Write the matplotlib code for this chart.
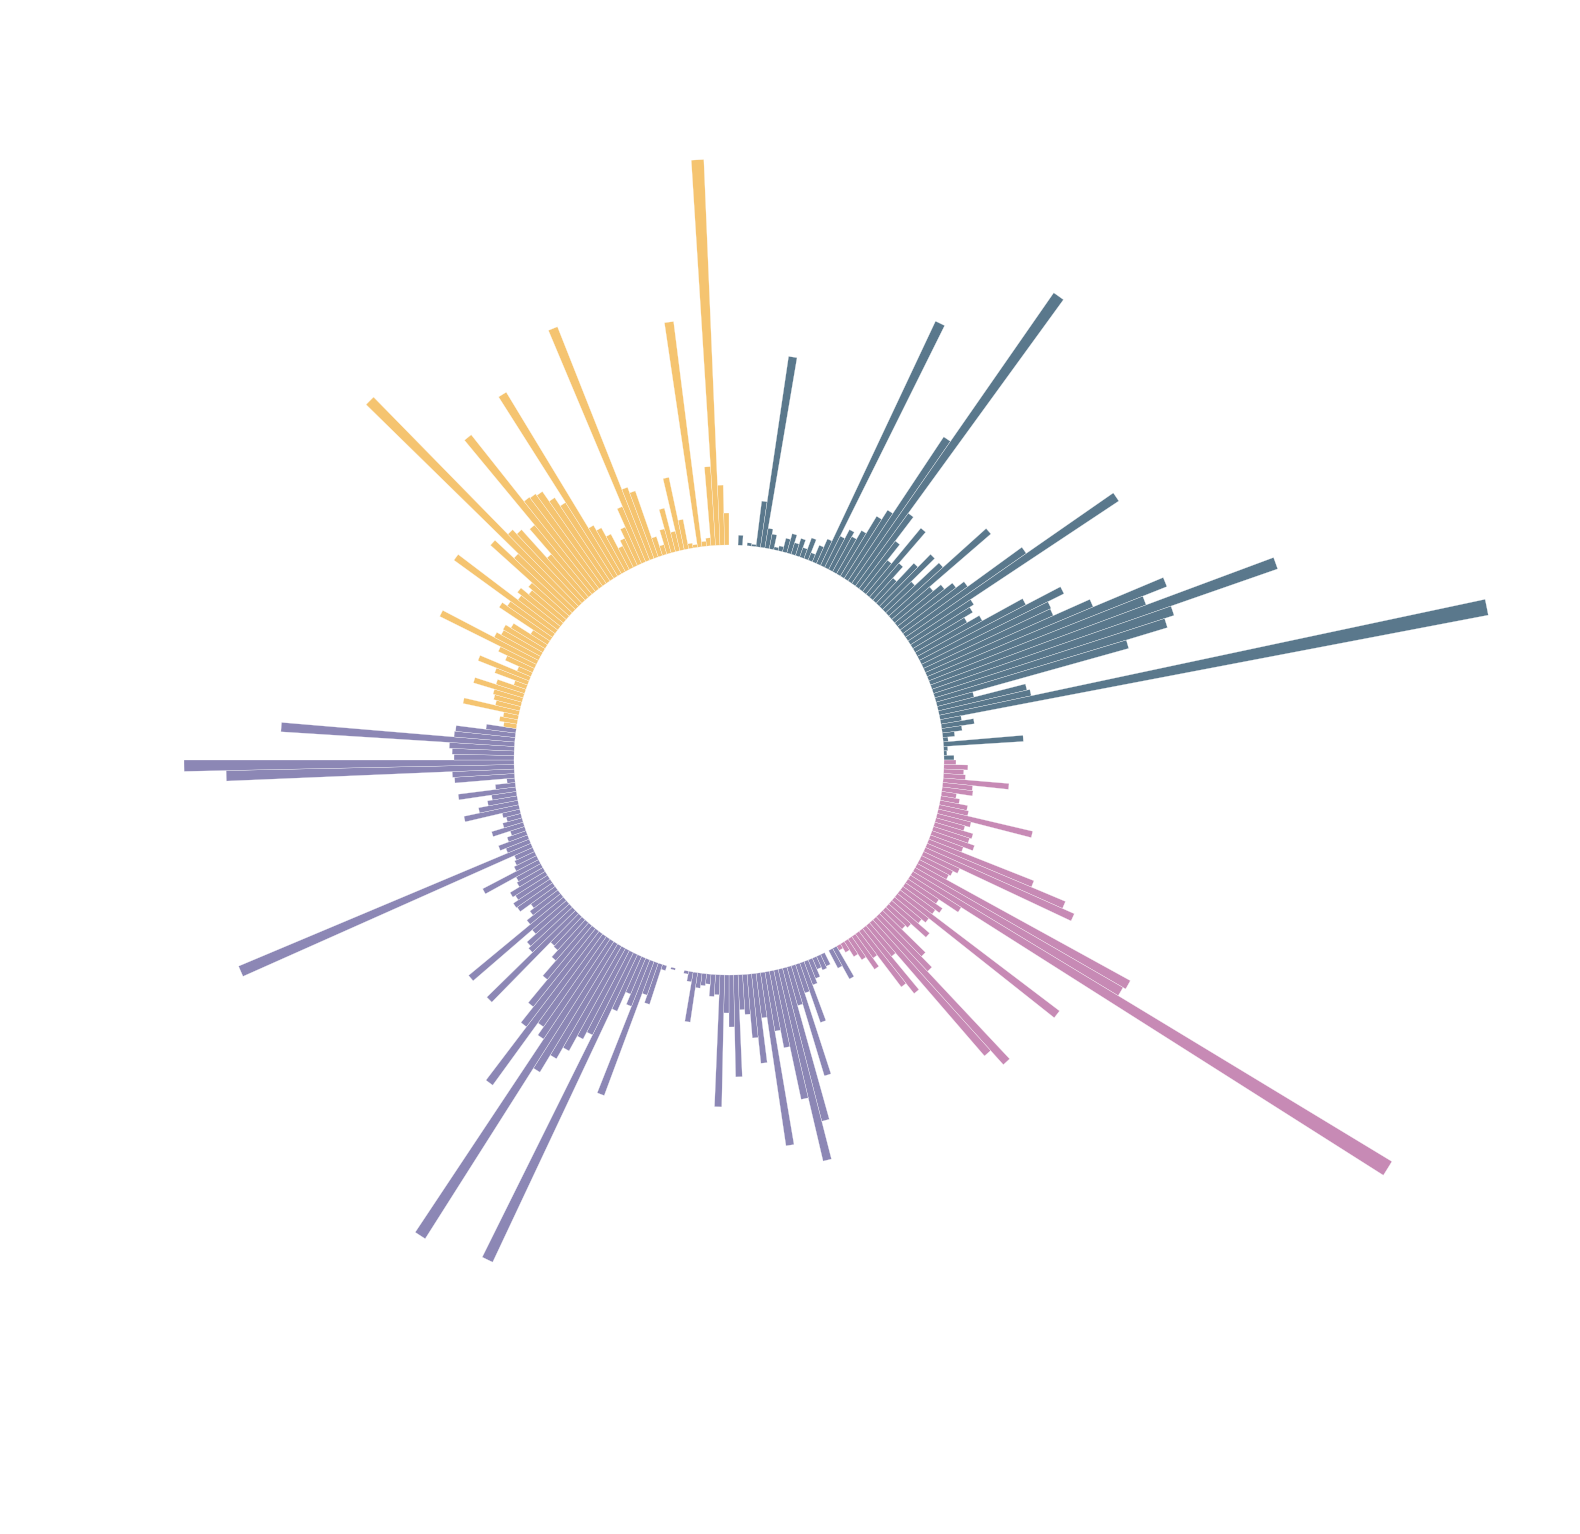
"""Radial bar chart: four groups of bars around an empty inner circle."""

import numpy as np
import matplotlib

matplotlib.use("Agg")
import matplotlib.pyplot as plt

# Bar lengths per group, clockwise from the top (one slot = 1.2 degrees)
teal_values = [
    0, 0, 10, 0, 3, 2, 46, 193, 20, 15,
    3, 5, 14, 20, 12, 18, 10, 22, 8, 18,
    27, 270, 35, 45, 40, 50, 70, 81, 173, 354,
    90, 60, 40, 86, 45, 30, 55, 73, 40, 73,
    131, 50, 60, 70, 80, 147, 253, 75, 70, 60,
    74, 120, 159, 141, 140, 180, 256, 230, 366, 253,
    243, 200, 38, 91, 94, 558, 21, 33, 20, 12,
    5, 80, 4, 3, 10,
]
pink_values = [
    12, 24, 20, 22, 66, 30, 31, 15, 19, 28,
    30, 97, 35, 30, 40, 38, 45, 35, 113, 150,
    163, 40, 35, 33, 243, 240, 560, 60, 37, 45,
    40, 200, 40, 35, 50, 30, 27, 60, 75, 195,
    176, 40, 83, 70, 30, 40, 25, 18, 10, 5,
]
purple_values = [
    35, 20, 0, 13, 15, 12, 20, 25, 63, 30,
    115, 40, 158, 197, 132, 78, 60, 175, 45, 90,
    64, 40, 35, 102, 52, 38, 132, 20, 22, 10,
    12, 15, 50, 10, 3, 0, 0, 2, 0, 5,
    42, 34, 143, 50, 39, 60, 340, 92, 100, 117,
    130, 150, 352, 120, 110, 187, 120, 100, 70, 50,
    41, 40, 124, 60, 57, 45, 123, 43, 35, 30,
    43, 44, 38, 41, 30, 28, 63, 25, 22, 20,
    317, 25, 31, 20, 15, 33, 20, 15, 18, 56,
    40, 30, 25, 58, 20, 8, 60, 62, 288, 330,
    60, 62, 65, 234, 61, 60, 30,
]
yellow_values = [
    13, 18, 15, 57, 25, 28, 30, 52, 30, 13,
    35, 55, 15, 30, 40, 108, 50, 45, 46, 40,
    20, 61, 55, 125, 50, 55, 45, 50, 106, 80,
    293, 101, 95, 57, 90, 200, 115, 114, 112, 100,
    90, 215, 56, 50, 40, 24, 30, 40, 60, 251,
    76, 70, 20, 10, 25, 45, 20, 74, 30, 5,
    3, 227, 5, 8, 79, 386, 60, 32,
]

groups = [
    ("teal", teal_values, "#5A788C"),
    ("pink", pink_values, "#C78AB5"),
    ("purple", purple_values, "#8C87B5"),
    ("yellow", yellow_values, "#F5C470"),
]

# Layout (pixels)
W, H = 1580, 1534
CX, CY = 729, 760
INNER = 215
R_MAX = 780
SLOT = np.deg2rad(360 / sum(len(g[1]) for g in groups))

fig = plt.figure(figsize=(W / 100, H / 100), dpi=100)
ax = fig.add_axes(
    [(CX - R_MAX) / W, (H - CY - R_MAX) / H, 2 * R_MAX / W, 2 * R_MAX / H],
    projection="polar",
)
ax.set_theta_zero_location("N")
ax.set_theta_direction(-1)

start = 0
for name, vals, color in groups:
    idx = np.arange(start, start + len(vals))
    theta = (idx + 0.5) * SLOT
    ax.bar(
        theta,
        vals,
        width=SLOT,
        bottom=INNER,
        color=color,
        edgecolor="white",
        linewidth=0.2,
        align="center",
    )
    start += len(vals)

ax.set_ylim(0, R_MAX)
ax.axis("off")

fig.savefig("out.png", dpi=100, facecolor="white")
plt.close(fig)
